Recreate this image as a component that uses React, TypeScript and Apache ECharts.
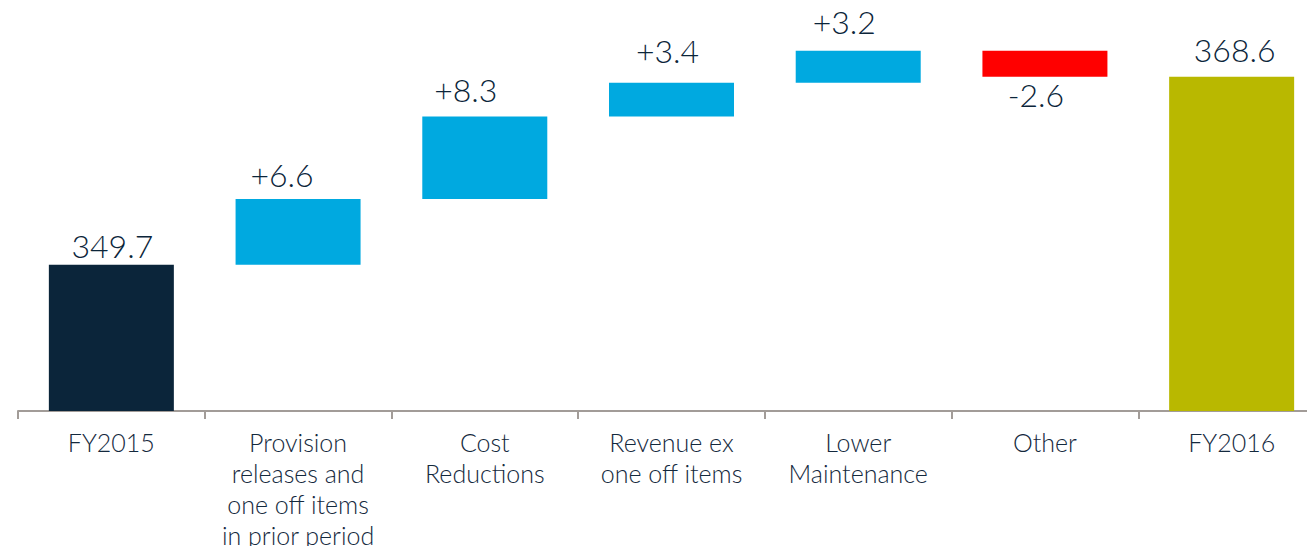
import React, { useEffect, useRef } from "react";
import * as echarts from "echarts";

const categories = [
  "FY2015",
  "Provision\nreleases and\none off items\nin prior period",
  "Cost\nReductions",
  "Revenue ex\none off items",
  "Lower\nMaintenance",
  "Other",
  "FY2016",
];
const startValue = 349.7;
const deltas = [6.6, 8.3, 3.4, 3.2, -2.6];
const endValue = 368.6;
const valueLabels = ["349.7", "+6.6", "+8.3", "+3.4", "+3.2", "-2.6", "368.6"];

const colors = ["#0b253a", "#00a9e0", "#00a9e0", "#00a9e0", "#00a9e0", "#ff0000", "#b9b800"];
const labelOffsetsX = [1, -16, -19, -4, -14, -9, 3];
const labelOffsetsY = [3, -3, -5, -10, -7, -3, -5];

export default function App() {
  const ref = useRef<HTMLDivElement>(null);
  useEffect(() => {
    if (!ref.current) return;
    const chart = echarts.init(ref.current, null, { renderer: "svg" });

    const base: number[] = [0];
    const vis: number[] = [startValue];
    let cum = startValue;
    deltas.forEach((d) => {
      const next = cum + d;
      base.push(Math.min(cum, next));
      vis.push(Math.abs(d));
      cum = next;
    });
    base.push(0);
    vis.push(endValue);

    const visData = vis.map((v, i) => {
      const neg = i > 0 && i < vis.length - 1 && deltas[i - 1] < 0;
      return {
        value: v,
        itemStyle: { color: colors[i] },
        label: {
          show: true,
          position: neg ? "bottom" : "top",
          distance: neg ? 5 : 6,
          offset: [labelOffsetsX[i], labelOffsetsY[i]],
          formatter: () => valueLabels[i],
        },
      };
    });

    chart.setOption({
      animation: false,
      grid: {
        left: 18,
        top: 13,
        right: -18,
        bottom: 135,
        containLabel: false,
        outerBoundsMode: "none",
      },
      xAxis: {
        type: "category",
        data: categories,
        axisLine: { show: true, lineStyle: { color: "#a29c98", width: 2 } },
        axisTick: { show: true, length: 8, lineStyle: { color: "#a29c98", width: 2 } },
        axisLabel: {
          interval: 0,
          color: "#14293d",
          fontFamily: "Lato",
          fontWeight: 300,
          fontSize: 25,
          lineHeight: 31,
          margin: 15,
        },
      },
      yAxis: {
        type: "value",
        min: 335,
        max: 375,
        show: false,
        splitLine: { show: false },
      },
      series: [
        {
          type: "bar",
          stack: "w",
          data: base,
          barWidth: 125,
          itemStyle: { color: "transparent" },
          silent: true,
        },
        {
          type: "bar",
          stack: "w",
          data: visData,
          barWidth: 125,
          label: {
            color: "#0b253a",
            fontFamily: "Lato",
            fontWeight: 300,
            fontSize: 32,
          },
        },
      ],
    });
    return () => chart.dispose();
  }, []);
  return (
    <div
      ref={ref}
      style={{ position: "fixed", left: 0, top: 0, width: 1307, height: 546, background: "#fff" }}
    />
  );
}
